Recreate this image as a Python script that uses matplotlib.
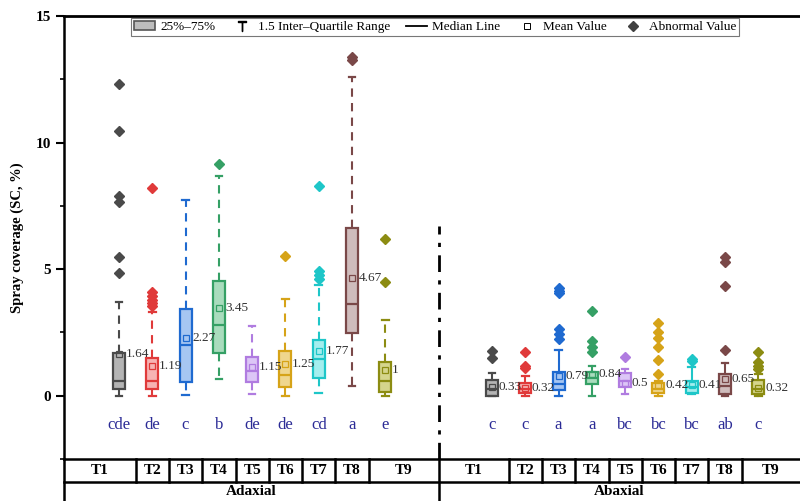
import matplotlib
matplotlib.use("Agg")
import matplotlib.pyplot as plt
import matplotlib.transforms as mtransforms
from matplotlib.patches import Patch
from matplotlib.lines import Line2D

plt.rcParams["font.family"] = ["Liberation Serif", "DejaVu Serif"]
plt.rcParams["mathtext.fontset"] = "stix"

treatments = ["T1", "T2", "T3", "T4", "T5", "T6", "T7", "T8", "T9"]
sides = ["Adaxial", "Abaxial"]

# Adaxial (upper leaf side) box statistics
ad_q1 = [0.26, 0.26, 0.55, 1.67, 0.55, 0.33, 0.70, 2.46, 0.13]
ad_med = [0.59, 0.59, 2.00, 2.79, 0.96, 0.82, 1.47, 3.62, 0.59]
ad_q3 = [1.67, 1.51, 3.43, 4.55, 1.54, 1.78, 2.20, 6.61, 1.34]
ad_lo = [0.00, 0.00, 0.03, 0.66, 0.07, 0.00, 0.09, 0.37, 0.00]
ad_hi = [3.69, 3.29, 7.73, 8.67, 2.74, 3.82, 4.39, 12.58, 3.00]
ad_mean = [1.64, 1.19, 2.27, 3.45, 1.15, 1.25, 1.77, 4.67, 1.00]
ad_fliers = [
    [12.3, 10.45, 7.9, 7.65, 5.5, 4.85],
    [8.2, 4.1, 3.95, 3.8, 3.65, 3.55],
    [],
    [9.16],
    [],
    [5.53],
    [8.3, 4.94, 4.78, 4.61],
    [13.4, 13.28],
    [6.19, 4.48],
]
ad_letters = ["cde", "de", "c", "b", "de", "de", "cd", "a", "e"]

# Abaxial (lower leaf side) box statistics
ab_q1 = [0.00, 0.09, 0.22, 0.45, 0.33, 0.09, 0.09, 0.07, 0.07]
ab_med = [0.26, 0.26, 0.46, 0.70, 0.59, 0.26, 0.33, 0.40, 0.26]
ab_q3 = [0.62, 0.49, 0.92, 0.95, 0.88, 0.49, 0.59, 0.86, 0.62]
ab_lo = [0.00, 0.00, 0.00, 0.00, 0.07, 0.00, 0.07, 0.00, 0.00]
ab_hi = [0.90, 0.79, 1.82, 1.19, 1.05, 0.59, 1.12, 1.28, 0.86]
ab_mean = [0.33, 0.32, 0.79, 0.84, 0.50, 0.42, 0.41, 0.65, 0.32]
ab_fliers = [
    [1.75, 1.50],
    [1.71, 1.19, 1.09],
    [4.25, 4.15, 4.05, 2.64, 2.44, 2.24],
    [3.36, 2.17, 1.91, 1.71],
    [1.54],
    [2.86, 2.50, 2.30, 1.91, 1.42, 0.86],
    [1.45, 1.36],
    [5.47, 5.27, 4.35, 1.81],
    [1.74, 1.32, 1.19, 1.07],
]
ab_letters = ["c", "c", "a", "a", "bc", "bc", "bc", "ab", "c"]

edge_colors = ["#4a4a4a", "#e03a3a", "#1f6ad0", "#35a065", "#b07ce0",
               "#d6a318", "#1ec6c8", "#7a4848", "#8c8c12"]
fill_colors = ["#b4b4b4", "#f7b3b3", "#a6c6f2", "#a9dcbd", "#dcc6f6",
               "#efd68e", "#a4eeee", "#cfbcbc", "#d5d58c"]

ad_pos = [1 + i for i in range(9)]
ab_pos = [12.2 + i for i in range(9)]
x_min, x_max = -0.65, 21.45
divider = 10.61

fig = plt.figure(figsize=(8, 5.01), dpi=100)
ax = fig.add_axes([0.08, 0.0838, 0.92, 0.8842])


def draw_group(q1, med, q3, lo, hi, mean, fliers, pos, dashed):
    stats = []
    for i in range(9):
        stats.append({"q1": q1[i], "med": med[i], "q3": q3[i], "whislo": lo[i],
                      "whishi": hi[i], "mean": mean[i], "fliers": fliers[i]})
    parts = ax.bxp(stats, positions=pos, widths=0.36, capwidths=0.2,
                   patch_artist=True, showmeans=True, manage_ticks=False)
    for i in range(9):
        ec, fc = edge_colors[i], fill_colors[i]
        parts["boxes"][i].set(facecolor=fc, edgecolor=ec, linewidth=1.6)
        parts["medians"][i].set(color=ec, linewidth=1.6)
        for w in parts["whiskers"][2 * i:2 * i + 2]:
            w.set(color=ec, linewidth=1.5)
            if dashed:
                w.set_linestyle((0, (4, 3)))
        for c in parts["caps"][2 * i:2 * i + 2]:
            c.set(color=ec, linewidth=1.6)
        parts["fliers"][i].set(marker="D", markersize=5, markerfacecolor=ec,
                               markeredgecolor=ec)
        parts["means"][i].set(marker="s", markersize=5, markerfacecolor="none",
                              markeredgecolor=ec, markeredgewidth=0.9)


draw_group(ad_q1, ad_med, ad_q3, ad_lo, ad_hi, ad_mean, ad_fliers, ad_pos, True)
draw_group(ab_q1, ab_med, ab_q3, ab_lo, ab_hi, ab_mean, ab_fliers, ab_pos, False)

# mean labels and significance letters
for pos, means, letters in [(ad_pos, ad_mean, ad_letters), (ab_pos, ab_mean, ab_letters)]:
    for i in range(9):
        ax.text(pos[i] + 0.2, means[i], "{:g}".format(means[i]), fontsize=9.5,
                color="#333333", va="center", ha="left")
        ax.text(pos[i], -1.15, letters[i], fontsize=12, color="#2b2b96",
                ha="center", va="center")

# dash-dot divider between the two sides
ax.plot([divider, divider], [-2.5, 6.7], color="black", linewidth=2,
        linestyle=(0, (6, 3, 1.5, 3)))

ax.set_xlim(x_min, x_max)
ax.set_ylim(-2.5, 15)
ax.set_xticks([])
ax.set_yticks([0, 5, 10, 15])
ax.set_yticks([-2.5, 2.5, 7.5, 12.5], minor=True)
ax.tick_params(axis="y", which="major", length=6, width=1.5, labelsize=11)
ax.tick_params(axis="y", which="minor", length=3, width=1.2)
for lbl in ax.get_yticklabels():
    lbl.set_fontweight("bold")
ax.set_ylabel("Spray coverage (SC, %)", fontsize=10.5, fontweight="bold", labelpad=8)

ax.spines["right"].set_visible(False)
ax.spines["bottom"].set_visible(False)
ax.spines["top"].set_linewidth(2)
ax.spines["left"].set_linewidth(1.8)

# category table under the axes
trans = mtransforms.blended_transform_factory(ax.transData, ax.transAxes)
row1 = 0.0
row2 = -0.052
row3 = -0.1
ax.plot([x_min, x_max], [row1, row1], color="black", lw=1.8, transform=trans, clip_on=False)
ax.plot([x_min, x_max], [row2, row2], color="black", lw=1.8, transform=trans, clip_on=False)
ax.plot([divider, divider], [row1, row3], color="black", lw=1.8, transform=trans, clip_on=False)
ax.plot([x_min, x_min], [row1, row3], color="black", lw=1.8, transform=trans, clip_on=False)
for pos, left, right, side in [(ad_pos, x_min, divider, sides[0]), (ab_pos, divider, x_max, sides[1])]:
    edges = [left] + [(pos[i] + pos[i + 1]) / 2 for i in range(8)] + [right]
    for e in edges[1:-1]:
        ax.plot([e, e], [row1, row2], color="black", lw=1.8, transform=trans, clip_on=False)
    for i in range(9):
        ax.text((edges[i] + edges[i + 1]) / 2, (row1 + row2) / 2, treatments[i],
                transform=trans, ha="center", va="center", fontsize=11, fontweight="bold")
    ax.text((left + right) / 2, (row2 + row3) / 2 + 0.002, side, transform=trans,
            ha="center", va="center", fontsize=11, fontweight="bold")

handles = [
    Patch(facecolor="#bdbdbd", edgecolor="#555555", linewidth=1.2),
    Line2D([], [], color="black", linestyle="none", marker=r"$\top$", markersize=7),
    Line2D([], [], color="black", linewidth=1.3),
    Line2D([], [], color="black", linestyle="none", marker="s", markersize=4,
           markerfacecolor="white", markeredgewidth=0.7),
    Line2D([], [], color="#404040", linestyle="none", marker="D", markersize=5),
]
labels = ["25%\u201375%", "1.5 Inter\u2013Quartile Range", "Median Line",
          "Mean Value", "Abnormal Value"]
leg = ax.legend(handles, labels, ncol=5, loc="upper center", bbox_to_anchor=(0.504, 0.995),
                fontsize=9.5, frameon=True, fancybox=False, framealpha=1,
                edgecolor="#777777", borderpad=0.2, handlelength=1.6,
                handletextpad=0.4, columnspacing=1.2, borderaxespad=0)
leg.get_frame().set_linewidth(0.8)

fig.savefig("out.png", dpi=100)
